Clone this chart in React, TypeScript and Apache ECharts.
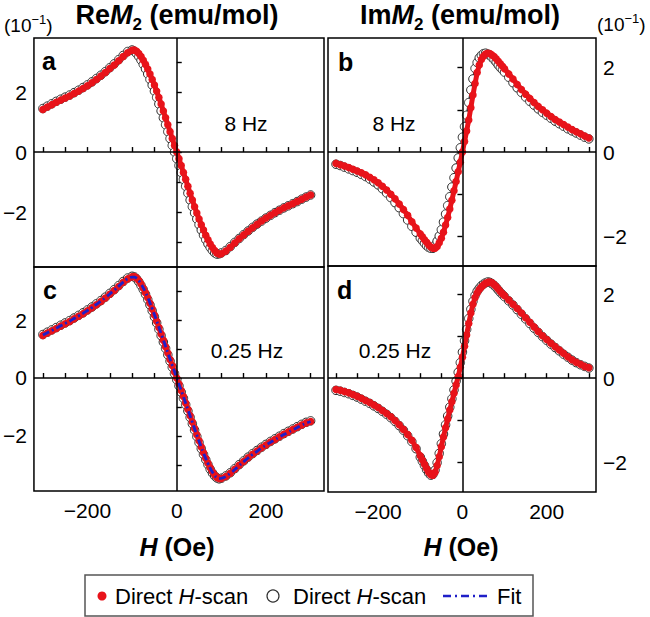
import React, { useEffect, useRef } from 'react';
import * as echarts from 'echarts';

// Field values (Oe)
const H = [-300, -290, -280, -270, -260, -250, -240, -230, -220, -210, -200, -190, -180, -170, -160, -150, -140, -130, -120, -110,
  -100, -95, -90, -85, -80, -75, -70, -65, -60, -55, -50, -45, -40, -35, -30, -25, -20, -15, -10, -5, 0,
  5, 10, 15, 20, 25, 30, 35, 40, 45, 50, 55, 60, 65, 70, 75, 80, 85, 90, 95, 100,
  110, 120, 130, 140, 150, 160, 170, 180, 190, 200, 210, 220, 230, 240, 250, 260, 270, 280, 290, 300];

// Panel a: Re M2, 8 Hz (units of 1e-1)
const aRed = [1.42, 1.5, 1.58, 1.66, 1.73, 1.8, 1.87, 1.95, 2.03, 2.12, 2.21, 2.31, 2.42, 2.53, 2.65, 2.78, 2.9, 3.04, 3.18, 3.31,
  3.39, 3.4, 3.36, 3.28, 3.18, 3.06, 2.92, 2.77, 2.6, 2.42, 2.23, 2.03, 1.82, 1.6, 1.37, 1.14, 0.91, 0.68, 0.45, 0.22, 0,
  -0.22, -0.45, -0.68, -0.91, -1.14, -1.37, -1.6, -1.82, -2.03, -2.23, -2.42, -2.6, -2.77, -2.92, -3.06, -3.18, -3.28, -3.36, -3.4, -3.39,
  -3.3, -3.17, -3.03, -2.89, -2.76, -2.64, -2.52, -2.41, -2.3, -2.2, -2.11, -2.02, -1.94, -1.86, -1.79, -1.72, -1.65, -1.57, -1.5, -1.43];
const aOpen = [1.45, 1.53, 1.61, 1.69, 1.76, 1.83, 1.9, 1.98, 2.06, 2.15, 2.24, 2.34, 2.45, 2.56, 2.68, 2.81, 2.94, 3.08, 3.22, 3.35,
  3.4, 3.36, 3.28, 3.18, 3.06, 2.92, 2.77, 2.6, 2.42, 2.23, 2.03, 1.82, 1.6, 1.37, 1.14, 0.91, 0.68, 0.45, 0.22, 0, -0.22,
  -0.45, -0.68, -0.91, -1.14, -1.37, -1.6, -1.82, -2.03, -2.23, -2.42, -2.6, -2.77, -2.92, -3.06, -3.18, -3.28, -3.36, -3.4, -3.39, -3.36,
  -3.28, -3.15, -3.01, -2.88, -2.75, -2.63, -2.51, -2.4, -2.3, -2.2, -2.11, -2.02, -1.94, -1.86, -1.79, -1.72, -1.65, -1.57, -1.5, -1.43];

// Panel b: Im M2, 8 Hz
const bRed = [-0.27, -0.3, -0.33, -0.37, -0.41, -0.45, -0.49, -0.54, -0.6, -0.66, -0.73, -0.81, -0.9, -1.0, -1.11, -1.23, -1.36, -1.5, -1.65, -1.8,
  -1.94, -2.01, -2.08, -2.14, -2.2, -2.25, -2.28, -2.28, -2.24, -2.15, -2.04, -1.9, -1.73, -1.55, -1.35, -1.14, -0.92, -0.7, -0.47, -0.24, 0,
  0.25, 0.5, 0.76, 1.05, 1.35, 1.62, 1.88, 2.06, 2.19, 2.27, 2.32, 2.34, 2.33, 2.3, 2.26, 2.21, 2.15, 2.09, 2.03, 1.97,
  1.85, 1.73, 1.6, 1.48, 1.37, 1.27, 1.17, 1.08, 1.0, 0.92, 0.84, 0.77, 0.71, 0.65, 0.59, 0.53, 0.48, 0.43, 0.38, 0.33];
const bOpen = [-0.29, -0.32, -0.36, -0.4, -0.44, -0.48, -0.53, -0.58, -0.64, -0.71, -0.78, -0.87, -0.97, -1.08, -1.2, -1.32, -1.46, -1.61, -1.76, -1.9,
  -2.04, -2.1, -2.16, -2.22, -2.26, -2.28, -2.28, -2.21, -2.11, -1.99, -1.84, -1.66, -1.47, -1.27, -1.06, -0.83, -0.61, -0.38, -0.14, 0.1, 0.35,
  0.6, 0.87, 1.17, 1.47, 1.73, 1.98, 2.12, 2.23, 2.29, 2.33, 2.34, 2.32, 2.29, 2.24, 2.19, 2.13, 2.06, 2.0, 1.95, 1.89,
  1.77, 1.64, 1.52, 1.41, 1.3, 1.2, 1.11, 1.02, 0.94, 0.87, 0.8, 0.73, 0.67, 0.61, 0.55, 0.5, 0.45, 0.4, 0.35, 0.31];

// Panel c: Re M2, 0.25 Hz
const cRed = [1.47, 1.55, 1.63, 1.71, 1.79, 1.87, 1.95, 2.04, 2.13, 2.22, 2.32, 2.42, 2.53, 2.64, 2.76, 2.89, 3.02, 3.16, 3.3, 3.42,
  3.49, 3.5, 3.45, 3.36, 3.24, 3.1, 2.94, 2.77, 2.58, 2.38, 2.17, 1.96, 1.74, 1.52, 1.3, 1.08, 0.86, 0.64, 0.43, 0.21, 0,
  -0.21, -0.43, -0.64, -0.86, -1.08, -1.3, -1.52, -1.74, -1.96, -2.17, -2.38, -2.58, -2.77, -2.94, -3.1, -3.24, -3.35, -3.43, -3.47, -3.47,
  -3.4, -3.29, -3.15, -3.01, -2.88, -2.75, -2.63, -2.52, -2.41, -2.31, -2.21, -2.12, -2.03, -1.94, -1.86, -1.78, -1.7, -1.62, -1.55, -1.5];
const cOpen = [1.5, 1.58, 1.66, 1.74, 1.82, 1.9, 1.98, 2.07, 2.16, 2.25, 2.35, 2.45, 2.56, 2.67, 2.79, 2.92, 3.05, 3.19, 3.33, 3.45,
  3.51, 3.49, 3.42, 3.32, 3.19, 3.05, 2.89, 2.71, 2.52, 2.32, 2.11, 1.9, 1.68, 1.46, 1.24, 1.02, 0.8, 0.58, 0.37, 0.15, -0.06,
  -0.27, -0.49, -0.7, -0.92, -1.14, -1.36, -1.58, -1.8, -2.02, -2.23, -2.44, -2.64, -2.82, -2.99, -3.15, -3.28, -3.38, -3.45, -3.48, -3.46,
  -3.38, -3.27, -3.13, -2.99, -2.86, -2.73, -2.61, -2.5, -2.39, -2.29, -2.19, -2.1, -2.01, -1.92, -1.84, -1.76, -1.68, -1.6, -1.53, -1.48];
const cFit = [1.48, 1.56, 1.64, 1.72, 1.8, 1.88, 1.96, 2.05, 2.14, 2.23, 2.33, 2.43, 2.54, 2.65, 2.77, 2.9, 3.03, 3.17, 3.31, 3.42,
  3.48, 3.48, 3.44, 3.36, 3.25, 3.11, 2.95, 2.78, 2.59, 2.39, 2.18, 1.97, 1.75, 1.53, 1.31, 1.09, 0.87, 0.65, 0.43, 0.22, 0,
  -0.22, -0.43, -0.65, -0.87, -1.09, -1.31, -1.53, -1.75, -1.97, -2.18, -2.39, -2.59, -2.78, -2.95, -3.11, -3.25, -3.36, -3.44, -3.47, -3.46,
  -3.4, -3.29, -3.16, -3.02, -2.89, -2.76, -2.64, -2.53, -2.42, -2.32, -2.22, -2.13, -2.04, -1.95, -1.87, -1.79, -1.71, -1.63, -1.56, -1.5];

// Panel d: Im M2, 0.25 Hz
const dRed = [-0.27, -0.29, -0.32, -0.35, -0.39, -0.43, -0.48, -0.53, -0.58, -0.64, -0.7, -0.77, -0.84, -0.92, -1.01, -1.11, -1.22, -1.34, -1.48, -1.65,
  -1.85, -1.95, -2.05, -2.15, -2.24, -2.3, -2.31, -2.24, -2.08, -1.87, -1.63, -1.4, -1.18, -0.97, -0.76, -0.56, -0.36, -0.16, 0.04, 0.26, 0.5,
  0.76, 1.03, 1.3, 1.55, 1.76, 1.92, 2.03, 2.11, 2.17, 2.22, 2.26, 2.28, 2.29, 2.27, 2.23, 2.18, 2.12, 2.06, 2.01, 1.96,
  1.86, 1.76, 1.66, 1.55, 1.44, 1.33, 1.22, 1.11, 1.01, 0.92, 0.83, 0.75, 0.67, 0.59, 0.51, 0.44, 0.38, 0.33, 0.28, 0.25];
const dOpen = [-0.29, -0.31, -0.34, -0.37, -0.41, -0.45, -0.5, -0.55, -0.6, -0.66, -0.72, -0.79, -0.86, -0.94, -1.03, -1.13, -1.24, -1.37, -1.51, -1.68,
  -1.88, -1.98, -2.08, -2.18, -2.26, -2.31, -2.29, -2.19, -2.01, -1.79, -1.56, -1.33, -1.11, -0.9, -0.69, -0.49, -0.28, -0.07, 0.14, 0.37, 0.62,
  0.89, 1.16, 1.42, 1.64, 1.83, 1.97, 2.07, 2.14, 2.2, 2.24, 2.27, 2.29, 2.28, 2.25, 2.21, 2.16, 2.1, 2.04, 1.99, 1.94,
  1.84, 1.74, 1.63, 1.52, 1.41, 1.3, 1.19, 1.09, 0.99, 0.9, 0.81, 0.73, 0.65, 0.57, 0.5, 0.43, 0.37, 0.32, 0.28, 0.24];

// Ticks and labels
const X_TICKS = [-300, -250, -200, -150, -100, -50, 0, 50, 100, 150, 200, 250, 300];
const X_LABELS = [-200, 0, 200];
const Y_TICKS_RE = [-3, -2, -1, 0, 1, 2, 3];
const Y_TICKS_IM = [-2, -1, 0, 1, 2];
const Y_LABELS = [-2, 0, 2];

const FONT = '"Liberation Sans", Arial, Helvetica, sans-serif';
const RED = '#e8131a';
const BLUE = '#1f1fc8';

const minus = (v: number) => String(v).replace('-', '\u2212');
const zip = (ys: number[]) => H.map((h, i) => [h, ys[i]]);

export default function App() {
  const ref = useRef<HTMLDivElement>(null);

  useEffect(() => {
    if (!ref.current) return;
    const chart = echarts.init(ref.current, null, { renderer: 'svg' });

    const panels = [
      { grid: { left: 33, top: 38, width: 291, height: 229 }, x: [-320, 330], y: [-3.83, 3.8], yTicks: Y_TICKS_RE, pos: 'left', showX: false, red: aRed, open: aOpen, fit: null as number[] | null },
      { grid: { left: 328, top: 38, width: 268, height: 228 }, x: [-319, 317], y: [-2.7, 2.7], yTicks: Y_TICKS_IM, pos: 'right', showX: false, red: bRed, open: bOpen, fit: null },
      { grid: { left: 33, top: 267, width: 291, height: 224 }, x: [-320, 330], y: [-3.9, 3.83], yTicks: Y_TICKS_RE, pos: 'left', showX: true, red: cRed, open: cOpen, fit: cFit },
      { grid: { left: 328, top: 266, width: 268, height: 226 }, x: [-319, 317], y: [-2.71, 2.67], yTicks: Y_TICKS_IM, pos: 'right', showX: true, red: dRed, open: dOpen, fit: null },
    ];

    const grid = panels.map((p) => ({ ...p.grid, show: true, borderColor: '#000', borderWidth: 1.5, backgroundColor: 'transparent' }));
    const xAxis = panels.map((p, i) => ({
      type: 'value', gridIndex: i, min: p.x[0], max: p.x[1], position: 'bottom',
      axisLine: { show: false }, splitLine: { show: false },
      axisTick: { show: true, inside: true, length: 5, customValues: X_TICKS, lineStyle: { color: '#000', width: 1.4 } },
      axisLabel: { show: p.showX, customValues: X_LABELS, formatter: minus, fontSize: 21, fontFamily: FONT, color: '#000', margin: 9 },
    }));
    const yAxis = panels.map((p, i) => ({
      type: 'value', gridIndex: i, min: p.y[0], max: p.y[1], position: p.pos,
      axisLine: { show: false }, splitLine: { show: false },
      axisTick: { show: true, inside: true, length: 5, customValues: p.yTicks, lineStyle: { color: '#000', width: 1.4 } },
      axisLabel: { show: true, customValues: Y_LABELS, formatter: minus, fontSize: 21, fontFamily: FONT, color: '#000', margin: 7 },
    }));

    const series: any[] = [];
    panels.forEach((p, i) => {
      series.push({
        type: 'line', xAxisIndex: i, yAxisIndex: i, data: [], z: 1, silent: true,
        markLine: {
          silent: true, symbol: ['none', 'none'], label: { show: false },
          lineStyle: { color: '#000', width: 1.5, type: 'solid' },
          data: [{ xAxis: 0 }, { yAxis: 0 }],
        },
      });
      series.push({
        type: 'line', xAxisIndex: i, yAxisIndex: i, data: zip(p.open), z: 2, silent: true,
        symbol: 'circle', symbolSize: 8.5, showSymbol: true, showAllSymbol: true,
        lineStyle: { color: '#3a3a3a', width: 2 },
        itemStyle: { color: '#ffffff', borderColor: '#2e2e2e', borderWidth: 1 },
      });
      series.push({
        type: 'line', xAxisIndex: i, yAxisIndex: i, data: zip(p.red), z: 3, silent: true,
        symbol: 'circle', symbolSize: 7.5, showSymbol: true, showAllSymbol: true,
        lineStyle: { color: RED, width: 5 },
        itemStyle: { color: RED, borderWidth: 0 },
      });
      if (p.fit) {
        series.push({
          type: 'line', xAxisIndex: i, yAxisIndex: i, data: zip(p.fit), z: 4, silent: true,
          smooth: true, showSymbol: false, symbol: 'none',
          lineStyle: { color: BLUE, width: 2.8, type: [7, 3, 2, 3] },
        });
      }
    });

    const txt = (x: number, y: number, text: string, size: number, opts: any = {}) => ({
      type: 'text', x, y, silent: true,
      style: { text, fontSize: size, fontFamily: FONT, fill: '#000', align: 'left', verticalAlign: 'middle', ...opts },
    });

    const titleRich = {
      b: { fontSize: 27, fontWeight: 'bold', fontFamily: FONT, lineHeight: 35, fill: '#000', color: '#000' },
      bi: { fontSize: 27, fontWeight: 'bold', fontStyle: 'italic', fontFamily: FONT, lineHeight: 35, fill: '#000', color: '#000' },
      s: { fontSize: 17, fontWeight: 'bold', fontFamily: FONT, lineHeight: 17, verticalAlign: 'bottom', fill: '#000', color: '#000' },
    };
    const expRich = {
      n: { fontSize: 19, fontFamily: FONT, lineHeight: 24, fill: '#000', color: '#000' },
      p: { fontSize: 13, fontFamily: FONT, lineHeight: 13, verticalAlign: 'top', fill: '#000', color: '#000' },
    };
    const axRich = {
      bi: { fontSize: 25, fontWeight: 'bold', fontStyle: 'italic', fontFamily: FONT, fill: '#000', color: '#000' },
      b: { fontSize: 25, fontWeight: 'bold', fontFamily: FONT, fill: '#000', color: '#000' },
    };
    const legRich = {
      n: { fontSize: 22, fontFamily: FONT, fill: '#000', color: '#000' },
      i: { fontSize: 22, fontStyle: 'italic', fontFamily: FONT, fill: '#000', color: '#000' },
    };

    const graphic: any[] = [
      txt(177, 15, '{b|Re}{bi|M}{s|2}{b| (emu/mol)}', 27, { align: 'center', rich: titleRich }),
      txt(460, 15, '{b|Im}{bi|M}{s|2}{b| (emu/mol)}', 27, { align: 'center', rich: titleRich }),
      txt(4, 25, '{n|(10}{p|\u22121}{n|)}', 19, { rich: expRich }),
      txt(597, 24, '{n|(10}{p|\u22121}{n|)}', 19, { rich: expRich }),
      txt(42, 61, 'a', 25, { fontWeight: 'bold' }),
      txt(338, 62, 'b', 25, { fontWeight: 'bold' }),
      txt(43, 290, 'c', 25, { fontWeight: 'bold' }),
      txt(337, 290, 'd', 25, { fontWeight: 'bold' }),
      txt(246, 123, '8 Hz', 21, { align: 'center' }),
      txt(394, 123, '8 Hz', 21, { align: 'center' }),
      txt(247, 350, '0.25 Hz', 21, { align: 'center' }),
      txt(395, 350, '0.25 Hz', 21, { align: 'center' }),
      txt(177, 547, '{bi|H}{b| (Oe)}', 25, { align: 'center', rich: axRich }),
      txt(461, 547, '{bi|H}{b| (Oe)}', 25, { align: 'center', rich: axRich }),
      // legend
      { type: 'rect', silent: true, shape: { x: 85, y: 575, width: 448, height: 41 }, style: { fill: '#fff', stroke: '#555', lineWidth: 1.5 } },
      { type: 'circle', silent: true, shape: { cx: 102, cy: 596, r: 4.5 }, style: { fill: RED } },
      txt(115, 596, '{n|Direct }{i|H}{n|-scan}', 22, { rich: legRich }),
      { type: 'circle', silent: true, shape: { cx: 273, cy: 596, r: 6 }, style: { fill: '#fff', stroke: '#333', lineWidth: 1.2 } },
      txt(293, 596, '{n|Direct }{i|H}{n|-scan}', 22, { rich: legRich }),
      { type: 'line', silent: true, shape: { x1: 443, y1: 596, x2: 487, y2: 596 }, style: { stroke: BLUE, lineWidth: 2.5, lineDash: [8, 4, 2, 4] } },
      txt(497, 596, 'Fit', 22),
    ];

    chart.setOption({
      animation: false,
      backgroundColor: '#fff',
      grid, xAxis, yAxis, series, graphic,
    });

    return () => chart.dispose();
  }, []);

  return <div ref={ref} style={{ position: 'absolute', left: 0, top: 0, width: 650, height: 617 }} />;
}
